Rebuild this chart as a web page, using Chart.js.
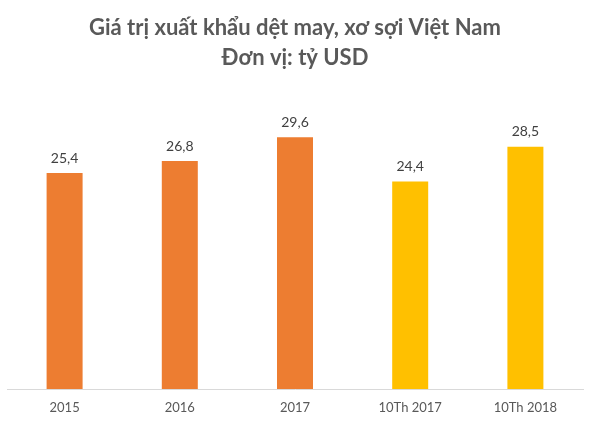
<!DOCTYPE html>
<html><head><meta charset="utf-8">
<script src="https://cdn.jsdelivr.net/npm/chart.js@4"></script>
<style>html,body{margin:0;padding:0;background:#fff}#wrap{width:590px;height:422px}</style>
</head><body><div id="wrap"><canvas id="c"></canvas></div>
<script>
const categories = ["2015", "2016", "2017", "10Th 2017", "10Th 2018"];
const values = [25.4, 26.8, 29.6, 24.4, 28.5];
const barColors = ["#ED7D31", "#ED7D31", "#ED7D31", "#FFC000", "#FFC000"];
const titleLines = ["Giá trị xuất khẩu dệt may, xơ sợi Việt Nam", "Đơn vị: tỷ USD"];

const FONT = "Lato, 'Open Sans', sans-serif";
const labelPlugin = {
  id: 'valLabels',
  afterDatasetsDraw(chart) {
    const ctx = chart.ctx;
    const meta = chart.getDatasetMeta(0);
    ctx.save();
    ctx.font = "14px " + FONT;
    ctx.fillStyle = "#404040";
    ctx.textAlign = "center";
    ctx.textBaseline = "bottom";
    meta.data.forEach((el, i) => {
      ctx.fillText(values[i].toFixed(1).replace('.', ','), el.x, el.y - 8);
    });
    ctx.restore();
  }
};

new Chart(document.getElementById('c'), {
  type: 'bar',
  data: {
    labels: categories,
    datasets: [{ data: values, backgroundColor: barColors, categoryPercentage: 1, barPercentage: 0.3125 }]
  },
  options: {
    responsive: true, maintainAspectRatio: false, animation: false,
    layout: { padding: { left: 7, right: 7, top: 6, bottom: 0 } },
    plugins: {
      legend: { display: false },
      tooltip: { enabled: false },
      title: {
        display: true, text: titleLines, color: "#595959",
        font: { family: FONT, size: 22, weight: 'bold', lineHeight: 1.35 },
        padding: { top: 7, bottom: 19 }
      }
    },
    scales: {
      x: {
        grid: { display: false },
        border: { display: true, color: "#D9D9D9", width: 1 },
        ticks: { color: "#595959", font: { family: FONT, size: 13 }, padding: 3 },
        afterFit(scale) { scale.height = 33; }
      },
      y: { display: false, min: 0, max: 35 }
    }
  },
  plugins: [labelPlugin]
});
</script></body></html>
